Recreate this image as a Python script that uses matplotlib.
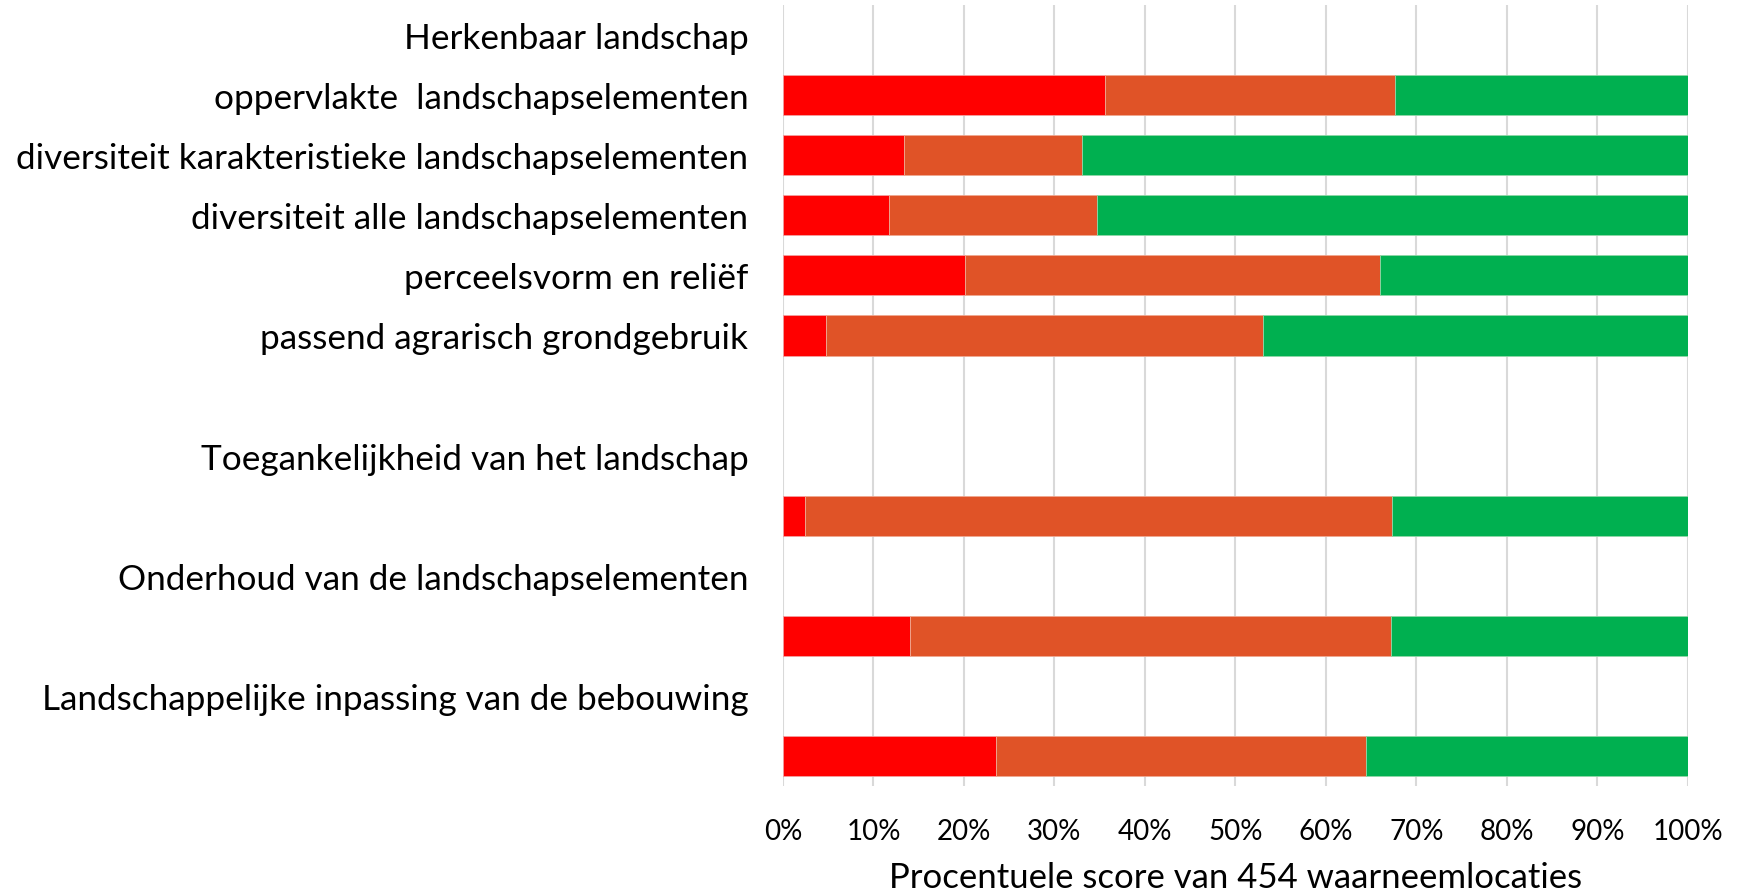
import numpy as np
import matplotlib
matplotlib.use("Agg")
import matplotlib.pyplot as plt
from matplotlib.ticker import PercentFormatter

plt.rcParams['font.family'] = ['Lato', 'DejaVu Sans']

# one row per slot, top to bottom; None = label-only row (no bar)
labels = ['Herkenbaar landschap',
          'oppervlakte  landschapselementen',
          'diversiteit karakteristieke landschapselementen',
          'diversiteit alle landschapselementen',
          'perceelsvorm en reliëf',
          'passend agrarisch grondgebruik',
          '',
          'Toegankelijkheid van het landschap',
          '',
          'Onderhoud van de landschapselementen',
          '',
          'Landschappelijke inpassing van de bebouwing',
          '']
red = [None, 35.6, 13.4, 11.7, 20.1, 4.8, None, None, 2.4, None, 14.0, None, 23.5]
orange = [None, 32.0, 19.6, 23.0, 45.9, 48.2, None, None, 64.9, None, 53.2, None, 40.9]
green = [None, 32.4, 67.0, 65.3, 34.0, 47.0, None, None, 32.7, None, 32.8, None, 35.6]

c_red = '#FF0000'
c_orange = '#E05327'
c_green = '#00B050'

fig = plt.figure(figsize=(17.45, 8.95), dpi=100)
ax = fig.add_axes([0.4487, 0.1207, 0.5186, 0.8726])

y = np.arange(len(labels))
for i in range(len(labels)):
    if red[i] is None:
        continue
    ax.barh(y[i], red[i], height=0.67, color=c_red, edgecolor='#f4a0a0', linewidth=0.6, zorder=3)
    ax.barh(y[i], orange[i], left=red[i], height=0.67, color=c_orange, edgecolor='#f0a890', linewidth=0.6, zorder=3)
    ax.barh(y[i], green[i], left=red[i] + orange[i], height=0.67, color=c_green, edgecolor='#90d8a8', linewidth=0.6, zorder=3)

ax.set_xlim(0, 100)
ax.set_ylim(len(labels) - 0.5, -0.5)
ax.set_yticks(y)
ax.set_yticklabels(labels, fontsize=25.3)
ax.set_xticks(np.arange(0, 101, 10))
ax.xaxis.set_major_formatter(PercentFormatter(decimals=0))
ax.tick_params(axis='y', length=0, pad=25)
ax.tick_params(axis='x', length=0, pad=23, labelsize=20)
ax.grid(axis='x', color='#D9D9D9', linewidth=1.5, zorder=0)
for s in ax.spines.values():
    s.set_visible(False)
ax.set_xlabel('Procentuele score van 454 waarneemlocaties', fontsize=25, labelpad=12)

fig.savefig('out.png', dpi=100, facecolor='white')
